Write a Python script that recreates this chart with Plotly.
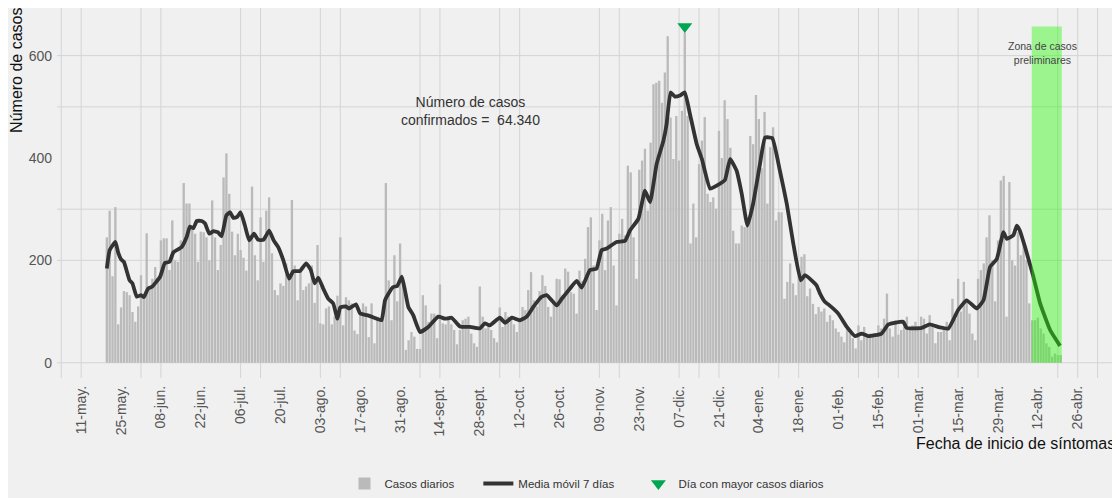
import plotly.graph_objects as go
import pandas as pd

# daily confirmed cases by symptom onset, from 20-may-2020 to 20-abr-2021
first_day = "2020-05-20"
daily_cases = [
    245, 297, 169, 304, 75,
    108, 140, 138, 132, 99, 80, 110,
    171, 125, 253, 150, 164, 187, 160,
    239, 243, 243, 181, 278, 200, 197,
    239, 351, 311, 311, 262, 252, 197,
    256, 255, 245, 200, 317, 245, 181,
    230, 362, 409, 330, 256, 210, 252,
    220, 205, 180, 250, 344, 210, 161,
    284, 197, 297, 323, 214, 142, 132,
    155, 150, 194, 160, 318, 190, 122,
    180, 142, 149, 155, 190, 117, 230,
    77, 75, 106, 110, 75, 90, 131,
    245, 73, 128, 122, 116, 63, 56,
    95, 116, 110, 50, 116, 38, 90,
    80, 110, 351, 161, 83, 210, 120,
    233, 168, 25, 44, 60, 51, 27,
    27, 132, 112, 80, 96, 96, 48,
    153, 77, 75, 90, 75, 64, 36,
    64, 83, 86, 90, 57, 38, 31,
    149, 90, 67, 77, 64, 48, 40,
    108, 70, 99, 90, 86, 75, 60,
    83, 109, 103, 142, 177, 122, 110,
    140, 171, 150, 109, 90, 119, 164,
    163, 132, 184, 178, 138, 135, 96,
    180, 160, 203, 265, 284, 190, 103,
    239, 291, 181, 278, 304, 190, 112,
    252, 281, 249, 385, 372, 245, 164,
    377, 395, 418, 297, 430, 544, 547,
    551, 508, 567, 638, 479, 398, 482,
    395, 492, 645, 482, 233, 311, 245,
    388, 434, 480, 330, 314, 323, 301,
    453, 400, 513, 476, 420, 258, 233,
    233, 268, 265, 265, 443, 427, 523,
    476, 380, 490, 311, 421, 460, 278,
    294, 294, 125, 158, 194, 155, 132,
    170, 207, 212, 130, 145, 115, 95,
    109, 100, 106, 80, 93, 83, 67,
    60, 51, 40, 70, 57, 48, 28,
    73, 44, 70, 55, 57, 57, 50,
    73, 67, 86, 135, 67, 51, 83,
    55, 64, 70, 90, 64, 73, 80,
    64, 90, 86, 57, 93, 70, 38,
    60, 60, 70, 80, 44, 125, 86,
    164, 100, 158, 120, 96, 57, 44,
    164, 181, 194, 245, 288, 200, 120,
    239, 356, 365, 90, 353, 200, 190,
    255, 210, 233, 200, 116, 83, 83,
    88, 67, 57, 38, 31, 12, 18,
    15, 15,
]

# 7-day moving average (days after 04-may-2020)
base_day = "2020-05-04"
ma_days = [
    16, 17, 19, 20, 21, 22, 24, 25, 26.5, 28, 29, 30.5, 32, 34.7, 36.4, 38, 39.4,
    42.3, 44, 45.2, 46.4, 47.6, 49.3, 50.5, 52, 53.4, 55, 56.3, 58, 59.3, 60.4,
    61.8, 63, 64.5, 66, 67.7, 69.2, 71, 73, 74.7, 76.2, 78, 80, 81.5, 83.8, 86,
    87.6, 89, 90.3, 92, 93.8, 95.5, 97, 98, 100, 101, 103.5, 105, 107.3, 108.4,
    110.8, 112.5, 113.7, 114.9, 116.6, 118, 119.6, 120.7, 121.9, 123.6, 126,
    128.9, 132.4, 134.8, 137.1, 140, 143.6, 147, 148.8, 150.5, 154, 155.9, 158.2,
    161, 163.5, 165.8, 168.7, 170.5, 174, 175.8, 178.7, 181, 182.8, 185.7, 188,
    189.8, 191.6, 195, 198, 199.7, 202.7, 205, 206.8, 209.1, 211.5, 212.6, 214,
    215.5, 217.3, 219, 220.8, 223.2, 225, 227.9, 230.2, 233.1, 234.9, 237.2, 239,
    241, 243, 245.4, 247.2, 249.7, 252.4, 254.8, 257.1, 259.7, 261.2, 264.1,
    265.3, 266.5, 268.2, 269.4, 272.9, 275.9, 278.8, 281.1, 283.4, 288.1, 290.5,
    295.7, 296.9, 302.2, 305, 308.6, 311.6, 315, 318, 321.5, 323.9, 326.2, 328.6,
    330.9, 332.1, 334.4, 335.6, 336.7, 338.5, 341.3, 343.8, 347.3, 350.8,
]
ma_values = [
    184, 220, 236, 215, 202, 197, 161, 155, 129, 132, 128, 145, 149, 168, 195, 197, 216,
    226, 245, 266, 263, 277, 277, 272, 252, 257, 255, 247, 288, 294, 283,
    285, 294, 268, 239, 252, 240, 240, 258, 238, 226, 200, 164, 179, 179, 194,
    182, 155, 166, 145, 125, 116, 86, 108, 110, 106, 114, 96, 93, 91,
    86, 83, 122, 135, 148, 150, 168, 142, 109, 93, 60,
    70, 90, 86, 88, 71, 70, 67, 77, 73, 88, 78, 88,
    83, 90, 109, 129, 132, 112, 125, 145, 160, 147, 181, 184,
    220, 223, 236, 238, 258, 281, 336, 314, 388, 434, 466, 528,
    520, 522, 528, 486, 427, 398, 340, 346, 357, 398, 375, 330,
    268, 311, 388, 440, 439, 375, 311, 233, 161, 171, 158,
    151, 135, 119, 114, 96, 70, 52, 57, 52, 57, 75,
    80, 68, 68, 75, 69, 67, 103, 122, 106, 122, 187, 203,
    255, 242, 249, 268, 258, 226, 171, 116, 64, 33,
]

tick_dates = pd.date_range("2020-05-11", "2021-04-26", freq="14D")
tick_labels = [
    "11-may.", "25-may.", "08-jun.", "22-jun.", "06-jul.", "20-jul.", "03-ago.",
    "17-ago.", "31-ago.", "14-sept.", "28-sept.", "12-oct.", "26-oct.", "09-nov.",
    "23-nov.", "07-dic.", "21-dic.", "04-ene.", "18-ene.", "01-feb.", "15-feb.",
    "01-mar.", "15-mar.", "29-mar.", "12-abr.", "26-abr.",
]
# weeks (after 04-may-2020) where vertical grid lines show up
grid_weeks = [0, 1, 4, 5, 9, 10, 13, 14, 18, 19, 22, 23, 27, 28, 31, 32, 33,
              36, 37, 40, 41, 42, 43, 45, 46, 50, 51, 52]
grid_values = [0, 200, 300, 500, 600]

total_cases = "64.340"
zone_start = "2021-04-09 20:00"
zone_end = "2021-04-20 10:00"

colors = {
    'bg': '#f0f0f0',
    'grid': '#d4d4d4',
    'bar': '#bababa',
    'line': '#333333',
    'peak': '#00a651',
    'zone': 'rgba(40,250,10,0.42)',
    'tick': '#555555',
    'text': '#333333',
}
font_family = "Liberation Sans, Arial, sans-serif"
pad = "\u00a0" * 6  # extra room between legend entries

dates = pd.date_range(first_day, periods=len(daily_cases), freq="D")
base = pd.Timestamp(base_day)
ma_dates = [base + pd.Timedelta(days=d) for d in ma_days]
peak_idx = max(range(len(daily_cases)), key=lambda i: daily_cases[i])
peak_y = daily_cases[peak_idx] + 12

fig = go.Figure()

fig.add_trace(go.Bar(
    x=dates,
    y=daily_cases,
    name='Casos diarios' + pad,
    marker=dict(color=colors['bar'], line=dict(width=0)),
    hovertemplate='%{x|%d-%m-%Y}: %{y}<extra></extra>'
))

fig.add_trace(go.Scatter(
    x=ma_dates,
    y=ma_values,
    mode='lines',
    name='Media móvil 7 días' + pad,
    line=dict(color=colors['line'], width=3.8, shape='spline', smoothing=0.4),
    hovertemplate='%{y:.0f}<extra></extra>'
))

fig.add_trace(go.Scatter(
    x=[dates[peak_idx]],
    y=[peak_y],
    mode='markers',
    name='Día con mayor casos diarios',
    marker=dict(symbol='triangle-down', size=13, color=colors['peak']),
    hovertemplate='%{x|%d-%m-%Y}<extra></extra>'
))

shapes = []
for w in grid_weeks:
    d = base + pd.Timedelta(days=7 * w)
    shapes.append(dict(type='line', xref='x', yref='paper', x0=d, x1=d, y0=0, y1=1,
                       line=dict(color=colors['grid'], width=1), layer='below'))
for v in grid_values:
    shapes.append(dict(type='line', xref='paper', yref='y', x0=0, x1=1, y0=v, y1=v,
                       line=dict(color=colors['grid'], width=1), layer='below'))
shapes.append(dict(type='rect', xref='x', yref='y', x0=zone_start, x1=zone_end,
                   y0=0, y1=peak_y, fillcolor=colors['zone'], line=dict(width=0),
                   layer='above'))

# the page adds an 8px body margin, so the figure is sized to fit inside it
fig.update_layout(
    width=1112,
    height=490,
    margin=dict(l=49, r=3, t=0, b=119),
    paper_bgcolor=colors['bg'],
    plot_bgcolor=colors['bg'],
    font=dict(family=font_family, color=colors['text']),
    bargap=0.18,
    showlegend=True,
    legend=dict(orientation='h', x=0.5, xanchor='center', y=-0.286, yanchor='middle',
                font=dict(size=11.5, color=colors['text']), bgcolor='rgba(0,0,0,0)',
                traceorder='normal'),
    shapes=shapes,
    annotations=[
        dict(text='Número de casos<br>confirmados =  ' + total_cases,
             xref='paper', yref='paper', x=0.39, y=0.722, xanchor='center',
             yanchor='middle', showarrow=False,
             font=dict(size=14, color=colors['text']), align='center'),
        dict(text='Zona de casos<br>preliminares',
             xref='paper', yref='paper', x=0.930, y=0.879, xanchor='center',
             yanchor='middle', showarrow=False,
             font=dict(size=10.5, color='#444444'), align='center'),
        dict(text='Número de casos', textangle=-90,
             xref='paper', yref='paper', x=0, xshift=-40, y=0.83,
             xanchor='center', yanchor='middle',
             showarrow=False, font=dict(size=16, color='#111111')),
        dict(text='Fecha de inicio de síntomas',
             xref='paper', yref='paper', x=1, xanchor='right', y=-0.178,
             yanchor='middle', showarrow=False, font=dict(size=16, color='#111111')),
    ],
)

fig.update_xaxes(
    type='date',
    range=[base + pd.Timedelta(days=-1.5), base + pd.Timedelta(days=370.8)],
    tickvals=tick_dates,
    ticktext=tick_labels,
    tickangle=-90,
    tickfont=dict(size=14, color=colors['tick']),
    showgrid=False,
    zeroline=False,
    showline=False,
    ticks='',
    ticklabelstandoff=4,
    automargin=False,
)
fig.update_yaxes(
    range=[-29.8, 693],
    tickvals=[0, 200, 400, 600],
    tickfont=dict(size=14, color=colors['tick']),
    showgrid=False,
    zeroline=False,
    showline=False,
    ticks='',
    ticklabelstandoff=4,
    automargin=False,
)

fig.write_html("out.html")
